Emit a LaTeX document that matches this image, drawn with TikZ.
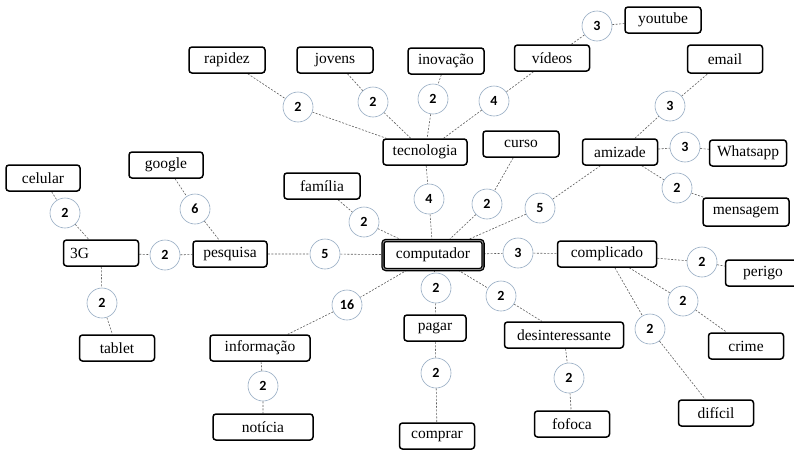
\documentclass[tikz,border=0pt]{standalone}
\usepackage{fontspec}
\setmainfont{Liberation Serif}
\newfontfamily\boxfont{Liberation Serif}
\newfontfamily\numfont{Carlito}
\usetikzlibrary{backgrounds}
\definecolor{circline}{RGB}{150,172,195}
\definecolor{dashline}{RGB}{95,95,95}
\begin{document}
\begin{tikzpicture}[x=1pt,y=-1pt,
  wbox/.style={draw=black, line width=1.5pt, rounded corners=3pt, fill=white,
    minimum width=75pt, minimum height=26pt, inner sep=2pt,
    font=\boxfont\fontsize{15.5}{17}\selectfont},
  cnt/.style={circle, draw=circline, line width=0.6pt, fill=white,
    minimum size=30pt, inner sep=0pt, font=\numfont\bfseries\fontsize{14}{16}\selectfont},
  lnk/.style={draw=dashline, line width=0.6pt, dash pattern=on 2pt off 1.5pt}]
\useasboundingbox (0,0) rectangle (794,450);
% boxes
\node[wbox, minimum width=74pt] (celular) at (43,178) {celular};
\node[wbox, minimum width=74pt] (google) at (166,165) {google};
\node[wbox, text width=62pt, align=left] (g3) at (101,253) {3G};
\node[wbox, minimum width=74pt] (pesquisa) at (230,254) {pesquisa};
\node[wbox] (tablet) at (117,348) {tablet};
\node[wbox, minimum width=100pt] (informacao) at (260,348) {informação};
\node[wbox, minimum width=100pt] (noticia) at (263,427) {notícia};
\node[wbox, minimum width=76pt] (rapidez) at (227,60) {rapidez};
\node[wbox, minimum width=76pt] (jovens) at (335,60) {jovens};
\node[wbox, minimum width=76pt] (inovacao) at (446,61) {inovação};
\node[wbox] (videos) at (552,58) {vídeos};
\node[wbox, minimum width=84pt] (tecnologia) at (425,152) {tecnologia};
\node[wbox, minimum width=76pt] (curso) at (521,144) {curso};
\node[wbox, minimum width=76pt] (youtube) at (663,20) {youtube};
\node[wbox, minimum height=28pt] (email) at (725,59) {email};
\node[wbox] (amizade) at (620,152) {amizade};
\node[wbox, minimum width=77pt] (whatsapp) at (748,153) {Whatsapp};
\node[wbox, minimum width=86pt, minimum height=28pt] (mensagem) at (746,212) {mensagem};
\node[wbox, minimum width=76pt] (familia) at (322,186) {família};
\node[wbox, minimum width=100pt, minimum height=29pt, line width=1.3pt, double=black!45, double distance=0.9pt] (computador) at (433,255) {computador};
\node[wbox, minimum width=99pt] (complicado) at (607,254) {complicado};
\node[wbox] (perigo) at (763,273) {perigo};
\node[wbox] (crime) at (746,346) {crime};
\node[wbox] (dificil) at (716,413) {difícil};
\node[wbox, minimum width=62pt] (pagar) at (435,328) {pagar};
\node[wbox, minimum width=119pt] (desint) at (564,335) {desinteressante};
\node[wbox] (fofoca) at (572,424) {fofoca};
\node[wbox] (comprar) at (437,436) {comprar};
% counts
\node[cnt] (c1) at (65,213) {2};
\node[cnt] (c2) at (195,209) {6};
\node[cnt] (c3) at (165,255) {2};
\node[cnt] (c4) at (102,303) {2};
\node[cnt] (c5) at (325,254) {5};
\node[cnt] (c6) at (364,222) {2};
\node[cnt] (c7) at (429,199) {4};
\node[cnt] (c8) at (487,204) {2};
\node[cnt] (c9) at (540,208) {5};
\node[cnt] (c10) at (518,253) {3};
\node[cnt] (c11) at (347,305) {16};
\node[cnt] (c12) at (436,288) {2};
\node[cnt] (c13) at (501,296) {2};
\node[cnt] (c14) at (436,373) {2};
\node[cnt] (c15) at (569,378) {2};
\node[cnt] (c16) at (650,329) {2};
\node[cnt] (c17) at (683,301) {2};
\node[cnt] (c18) at (702,262) {2};
\node[cnt] (c19) at (263,386) {2};
\node[cnt] (c20) at (298,107) {2};
\node[cnt] (c21) at (373,102) {2};
\node[cnt] (c22) at (433,99) {2};
\node[cnt] (c23) at (494,101) {4};
\node[cnt] (c24) at (597,26) {3};
\node[cnt] (c25) at (670,106) {3};
\node[cnt] (c26) at (685,147) {3};
\node[cnt] (c27) at (677,188) {2};
% connectors
\begin{scope}[on background layer]
\fill[white] (0,0) rectangle (794,450);
\foreach \a/\c/\b in {celular/c1/g3, google/c2/pesquisa, g3/c3/pesquisa, g3/c4/tablet,
  pesquisa/c5/computador, familia/c6/computador, tecnologia/c7/computador,
  curso/c8/computador, amizade/c9/computador, computador/c10/complicado,
  computador/c11/informacao, computador/c12/pagar, computador/c13/desint,
  pagar/c14/comprar, desint/c15/fofoca, complicado/c16/dificil,
  complicado/c17/crime, complicado/c18/perigo, informacao/c19/noticia,
  rapidez/c20/tecnologia, jovens/c21/tecnologia, inovacao/c22/tecnologia,
  videos/c23/tecnologia, videos/c24/youtube, amizade/c25/email,
  amizade/c26/whatsapp, amizade/c27/mensagem}
  { \draw[lnk] (\a) -- (\c) -- (\b); }
\end{scope}
\end{tikzpicture}
\end{document}
